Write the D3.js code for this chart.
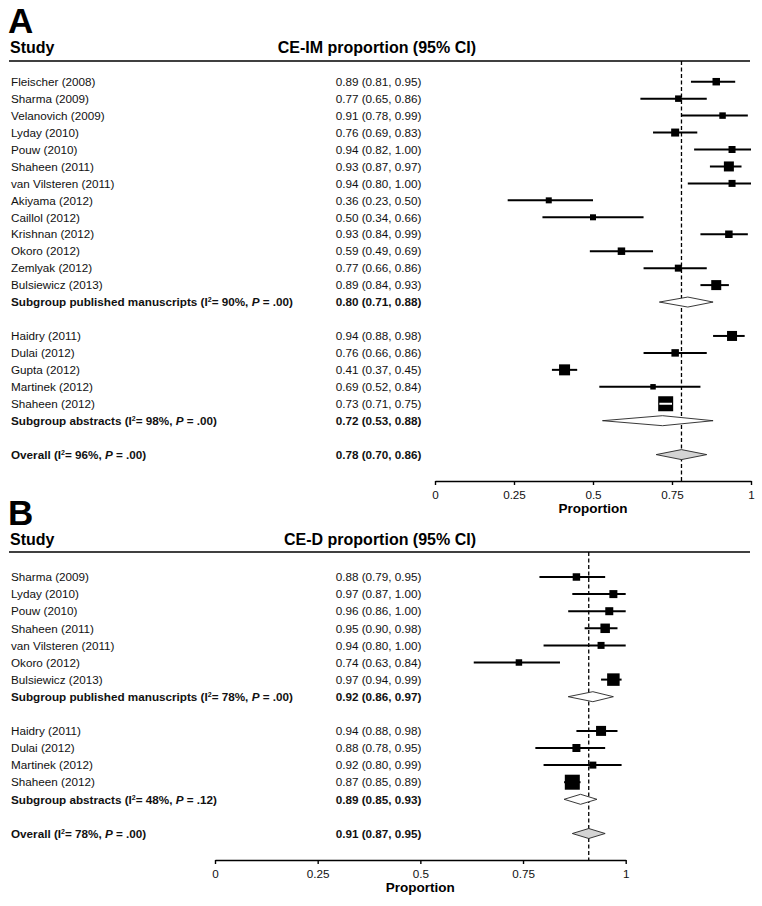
<!DOCTYPE html>
<html>
<head>
<meta charset="utf-8">
<script src="https://cdn.jsdelivr.net/npm/d3@7"></script>
<style>
  body { margin: 0; background: #fff; }
  svg { display: block; font-family: "Liberation Sans", Arial, Helvetica, sans-serif; }
</style>
</head>
<body>
<div id="vis"></div>
<script>
// ---- Panel A data (CE-IM) ----
const studiesA = ["Fleischer (2008)", "Sharma (2009)", "Velanovich (2009)", "Lyday (2010)", "Pouw (2010)",
  "Shaheen (2011)", "van Vilsteren (2011)", "Akiyama (2012)", "Caillol (2012)", "Krishnan (2012)",
  "Okoro (2012)", "Zemlyak (2012)", "Bulsiewicz (2013)",
  "Haidry (2011)", "Dulai (2012)", "Gupta (2012)", "Martinek (2012)", "Shaheen (2012)"];
const estA  = [0.89, 0.77, 0.91, 0.76, 0.94, 0.93, 0.94, 0.36, 0.50, 0.93, 0.59, 0.77, 0.89, 0.94, 0.76, 0.41, 0.69, 0.73];
const lowA  = [0.81, 0.65, 0.78, 0.69, 0.82, 0.87, 0.80, 0.23, 0.34, 0.84, 0.49, 0.66, 0.84, 0.88, 0.66, 0.37, 0.52, 0.71];
const highA = [0.95, 0.86, 0.99, 0.83, 1.00, 0.97, 1.00, 0.50, 0.66, 0.99, 0.69, 0.86, 0.93, 0.98, 0.86, 0.45, 0.84, 0.75];
const weightA = [5.6, 4.2, 4.2, 6.4, 4.9, 10.0, 4.9, 3.6, 3.6, 5.6, 5.6, 4.9, 10.0, 10.0, 5.6, 12.1, 3.0, 22.5];
const groupA = [0, 0, 0, 0, 0, 0, 0, 0, 0, 0, 0, 0, 0, 1, 1, 1, 1, 1];
const subNamesA = ["Subgroup published manuscripts", "Subgroup abstracts"];
const subI2A = [90, 98];
const subPA = [".00", ".00"];
const subEstA = [0.80, 0.72];
const subLowA = [0.71, 0.53];
const subHighA = [0.88, 0.88];
const overallA = [0.78, 0.70, 0.86];   // est, low, high
const overallHetA = [96, ".00"];

// ---- Panel B data (CE-D) ----
const studiesB = ["Sharma (2009)", "Lyday (2010)", "Pouw (2010)", "Shaheen (2011)", "van Vilsteren (2011)",
  "Okoro (2012)", "Bulsiewicz (2013)",
  "Haidry (2011)", "Dulai (2012)", "Martinek (2012)", "Shaheen (2012)"];
const estB  = [0.88, 0.97, 0.96, 0.95, 0.94, 0.74, 0.97, 0.94, 0.88, 0.92, 0.87];
const lowB  = [0.79, 0.87, 0.86, 0.90, 0.80, 0.63, 0.94, 0.88, 0.78, 0.80, 0.85];
const highB = [0.95, 1.00, 1.00, 0.98, 1.00, 0.84, 0.99, 0.98, 0.95, 0.99, 0.89];
const weightB = [5.6, 6.4, 6.4, 9.0, 4.9, 4.2, 15.6, 10.0, 6.4, 4.9, 22.5];
const groupB = [0, 0, 0, 0, 0, 0, 0, 1, 1, 1, 1];
const subNamesB = ["Subgroup published manuscripts", "Subgroup abstracts"];
const subI2B = [78, 48];
const subPB = [".00", ".12"];
const subEstB = [0.92, 0.89];
const subLowB = [0.86, 0.85];
const subHighB = [0.97, 0.93];
const overallB = [0.91, 0.87, 0.95];
const overallHetB = [78, ".00"];

const tickVals = [0, 0.25, 0.5, 0.75, 1];

const W = 762, H = 906;
const fmt = d3.format(".2f");
const boxScale = d3.scaleSqrt().domain([0, 22.5]).range([0, 15]);

const svg = d3.select('#vis').append('svg')
  .attr('width', W).attr('height', H);

function hetLabel(sel, name, i2, p) {
  sel.append('tspan').text(name + ' (I');
  sel.append('tspan').attr('dy', -4).attr('font-size', '7px').text('2');
  sel.append('tspan').attr('dy', 4).text('= ' + i2 + '%, ');
  sel.append('tspan').attr('font-style', 'italic').text('P');
  sel.append('tspan').text(' = ' + p + ')');
}

function drawPanel(p) {
  const g = svg.append('g');

  // build rows: studies per group, then subgroup, blank line, ..., overall
  const rows = [];
  let r = 0;
  [0, 1].forEach(gi => {
    p.studies.forEach((s, i) => {
      if (p.group[i] === gi) rows.push({type: 'study', row: r++, name: s, est: p.est[i], low: p.low[i], high: p.high[i], w: p.weight[i]});
    });
    rows.push({type: 'sub', row: r++, name: p.subNames[gi], i2: p.subI2[gi], pv: p.subP[gi], est: p.subEst[gi], low: p.subLow[gi], high: p.subHigh[gi]});
    r++; // blank
  });
  rows.push({type: 'overall', row: r, name: 'Overall', i2: p.overallHet[0], pv: p.overallHet[1], est: p.overall[0], low: p.overall[1], high: p.overall[2]});

  const x = d3.scaleLinear().domain([0, 1]).range(p.xRange);
  const y = d3.scaleLinear().domain([0, r]).range(p.yRange);

  // panel letter and header
  g.append('text').attr('x', 8).attr('y', p.letterY).attr('font-size', '35px').attr('font-weight', 'bold').text(p.letter);
  g.append('text').attr('x', 10).attr('y', p.headY).attr('font-size', '16px').attr('font-weight', 'bold').text('Study');
  g.append('text').attr('x', 476).attr('y', p.headY).attr('text-anchor', 'end')
    .attr('font-size', '16px').attr('font-weight', 'bold').text(p.title);
  g.append('line').attr('x1', 9).attr('x2', 750).attr('y1', p.lineY).attr('y2', p.lineY)
    .attr('stroke', '#000').attr('stroke-width', 1.6);

  // text columns
  rows.forEach(d => {
    const bold = d.type !== 'study';
    const t = g.append('text').attr('x', 11).attr('y', y(d.row)).attr('dy', '0.36em')
      .attr('font-size', '11.7px').attr('fill', '#111').attr('font-weight', bold ? 'bold' : 'normal');
    if (d.type === 'study') t.text(d.name);
    else hetLabel(t, d.name, d.i2, d.pv);
    g.append('text').attr('x', 421.5).attr('y', y(d.row)).attr('dy', '0.36em').attr('text-anchor', 'end')
      .attr('font-size', '11.7px').attr('fill', '#111').attr('font-weight', bold ? 'bold' : 'normal')
      .text(`${fmt(d.est)} (${fmt(d.low)}, ${fmt(d.high)})`);
  });

  // reference (dashed) line at overall estimate
  g.append('line').attr('x1', x(p.overall[0])).attr('x2', x(p.overall[0]))
    .attr('y1', p.lineY).attr('y2', p.axisY)
    .attr('stroke', '#000').attr('stroke-width', 1.3).attr('stroke-dasharray', '4,2.5');

  // study CIs and boxes
  const st = rows.filter(d => d.type === 'study');
  g.selectAll('.ci').data(st).join('line').attr('class', 'ci')
    .attr('x1', d => x(d.low)).attr('x2', d => x(d.high))
    .attr('y1', d => y(d.row)).attr('y2', d => y(d.row))
    .attr('stroke', '#000').attr('stroke-width', 2);
  g.selectAll('.box').data(st).join('rect').attr('class', 'box')
    .attr('x', d => x(d.est) - boxScale(d.w) / 2)
    .attr('y', d => y(d.row) - boxScale(d.w) / 2)
    .attr('width', d => boxScale(d.w)).attr('height', d => boxScale(d.w))
    .attr('fill', '#000');
  // CI drawn in white when it lies fully inside its box
  g.selectAll('.inside').data(st.filter(d => x(d.low) > x(d.est) - boxScale(d.w) / 2 && x(d.high) < x(d.est) + boxScale(d.w) / 2))
    .join('line').attr('class', 'inside')
    .attr('x1', d => x(d.low)).attr('x2', d => x(d.high))
    .attr('y1', d => y(d.row)).attr('y2', d => y(d.row))
    .attr('stroke', '#fff').attr('stroke-width', 2);

  // diamonds
  const dm = rows.filter(d => d.type !== 'study');
  g.selectAll('.diamond').data(dm).join('path').attr('class', 'diamond')
    .attr('d', d => {
      const cy = y(d.row), h = 5;
      return `M${x(d.low)},${cy}L${x(d.est)},${cy - h}L${x(d.high)},${cy}L${x(d.est)},${cy + h}Z`;
    })
    .attr('fill', d => d.type === 'overall' ? '#d4d4d4' : '#fff')
    .attr('stroke', '#222').attr('stroke-width', 0.9);

  // axis
  const ax = g.append('g').attr('transform', `translate(0,${p.axisY})`)
    .call(d3.axisBottom(x).tickValues(tickVals).tickFormat(d => d).tickSize(4).tickSizeOuter(0));
  ax.select('.domain').attr('stroke-width', 1.6);
  ax.selectAll('.tick line').attr('stroke-width', 1.4);
  ax.selectAll('.tick text').attr('font-size', '11.7px').attr('font-family', null).attr('fill', '#111').attr('dy', '0.9em');
  g.append('text').attr('x', (p.xRange[0] + p.xRange[1]) / 2).attr('y', p.axisY + 32)
    .attr('text-anchor', 'middle').attr('font-size', '13.5px').attr('font-weight', 'bold').text('Proportion');
}

drawPanel({
  letter: 'A', letterY: 33, headY: 53, lineY: 61, axisY: 481,
  title: 'CE-IM proportion (95% CI)',
  xRange: [435, 751], yRange: [81.7, 454.6],
  studies: studiesA, est: estA, low: lowA, high: highA, weight: weightA, group: groupA,
  subNames: subNamesA, subI2: subI2A, subP: subPA, subEst: subEstA, subLow: subLowA, subHigh: subHighA,
  overall: overallA, overallHet: overallHetA
});

drawPanel({
  letter: 'B', letterY: 525, headY: 545, lineY: 552, axisY: 860,
  title: 'CE-D proportion (95% CI)',
  xRange: [215, 625.7], yRange: [577, 833.5],
  studies: studiesB, est: estB, low: lowB, high: highB, weight: weightB, group: groupB,
  subNames: subNamesB, subI2: subI2B, subP: subPB, subEst: subEstB, subLow: subLowB, subHigh: subHighB,
  overall: overallB, overallHet: overallHetB
});
</script>
</body>
</html>
